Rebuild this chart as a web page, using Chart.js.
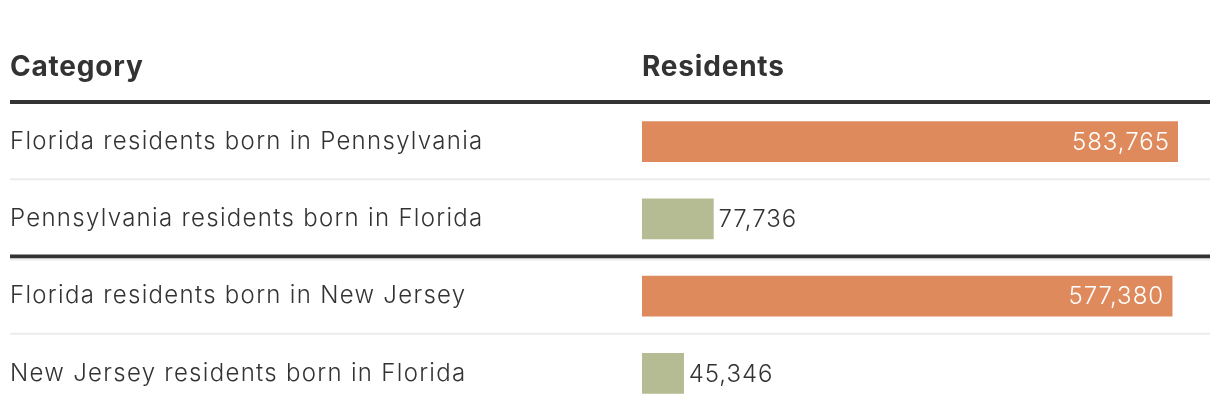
<!DOCTYPE html>
<html>
<head>
<meta charset="utf-8">
<script src="https://cdn.jsdelivr.net/npm/chart.js@4"></script>
<style>
  html, body { margin: 0; padding: 0; background: #fff; }
  #wrap { width: 1220px; height: 420px; position: relative; }
</style>
</head>
<body>
<div id="wrap"><canvas id="chart"></canvas></div>
<script>
// data
const categories = [
    'Florida residents born in Pennsylvania',
    'Pennsylvania residents born in Florida',
    'Florida residents born in New Jersey',
    'New Jersey residents born in Florida'
];
const residents = [583765, 77736, 577380, 45346];
const headerLabels = ['Category', 'Residents'];

// styling
const barColors = ['#de8a5c', '#b5bb92', '#de8a5c', '#b5bb92'];
const separators = ['light', 'dark', 'light']; // line between row i and i+1
const textColor = '#333333';
const bodyFont = 'Inter, sans-serif';

const tablePlugin = {
    id: 'tablePlugin',
    beforeDraw(chart) {
        // looser tracking for the tick labels, like the original type
        chart.ctx.letterSpacing = '1.3px';
    },
    afterDraw(chart) {
        const ctx = chart.ctx;
        const y = chart.scales.y;
        const x = chart.scales.x;
        const area = chart.chartArea;
        const left = 10, right = chart.width - 10;
        ctx.save();

        // header
        ctx.letterSpacing = '0.8px';
        ctx.fillStyle = textColor;
        ctx.font = '700 28px ' + bodyFont;
        ctx.textBaseline = 'alphabetic';
        ctx.textAlign = 'left';
        ctx.fillText(headerLabels[0], left, 76);
        ctx.fillText(headerLabels[1], area.left, 76);
        ctx.fillRect(left, area.top - 3, right - left, 4);

        // row separators
        for (let i = 0; i < separators.length; i++) {
            const b = (y.getPixelForValue(i) + y.getPixelForValue(i + 1)) / 2;
            if (separators[i] === 'dark') {
                ctx.fillStyle = textColor;
                ctx.fillRect(left, b - 3, right - left, 4);
                ctx.fillStyle = '#ececec';
                ctx.fillRect(left, b + 1, right - left, 2);
            } else {
                ctx.fillStyle = '#ececec';
                ctx.fillRect(left, b - 2, right - left, 2);
            }
        }

        // value labels
        ctx.letterSpacing = '1px';
        ctx.font = '300 24px ' + bodyFont;
        ctx.textBaseline = 'middle';
        residents.forEach(function (v, i) {
            const end = x.getPixelForValue(v);
            const cy = y.getPixelForValue(i) + 1;
            const txt = v.toLocaleString('en-US');
            if (end - area.left > 150) {
                ctx.fillStyle = '#ffffff';
                ctx.textAlign = 'right';
                ctx.fillText(txt, end - 8, cy);
            } else {
                ctx.fillStyle = textColor;
                ctx.textAlign = 'left';
                ctx.fillText(txt, end + 5, cy);
            }
        });
        ctx.restore();
        ctx.letterSpacing = '0px';
    }
};

new Chart(document.getElementById('chart'), {
    type: 'bar',
    data: {
        labels: categories,
        datasets: [{
            data: residents,
            backgroundColor: barColors,
            barThickness: 40,
            borderWidth: 0
        }]
    },
    options: {
        indexAxis: 'y',
        responsive: true,
        maintainAspectRatio: false,
        animation: false,
        layout: { padding: { left: 10, right: 42, top: 103, bottom: 8 } },
        plugins: { legend: { display: false }, tooltip: { enabled: false } },
        scales: {
            x: { display: false, min: 0, max: 583765 },
            y: {
                grid: { display: false },
                border: { display: false },
                ticks: {
                    crossAlign: 'far',
                    color: textColor,
                    font: { family: bodyFont, size: 24, weight: '300' },
                    padding: 0
                },
                afterFit(scale) {
                    scale.width = 632;
                    scale.paddingTop = 0;
                    scale.paddingBottom = 0;
                }
            }
        }
    },
    plugins: [tablePlugin]
});
</script>
</body>
</html>
